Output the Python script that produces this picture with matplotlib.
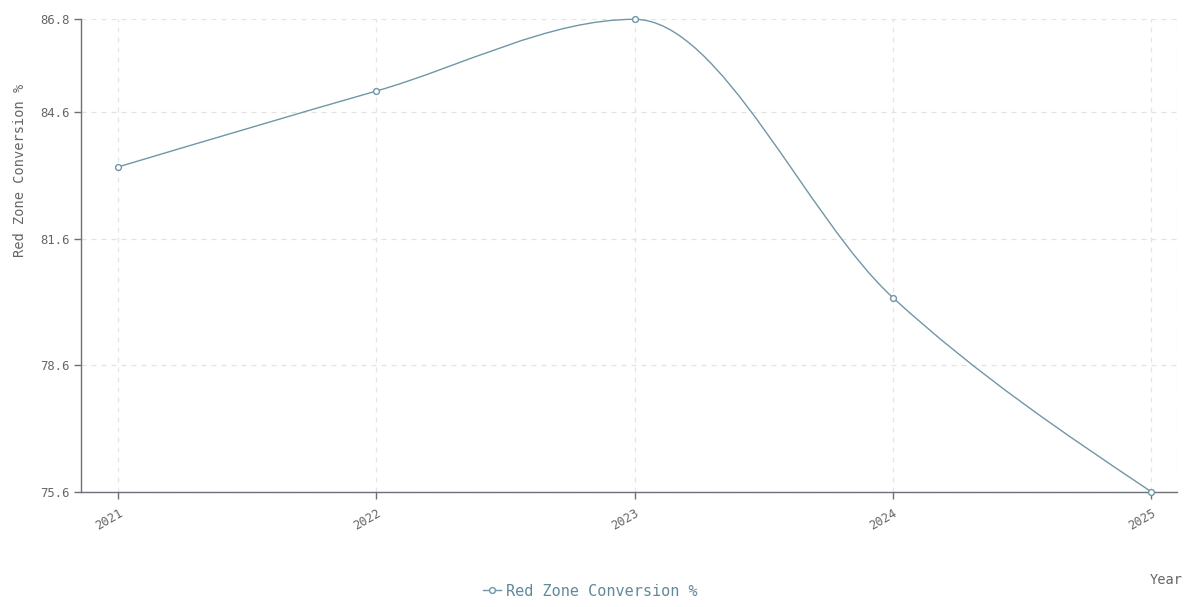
import matplotlib
matplotlib.use("Agg")
import matplotlib.pyplot as plt
from matplotlib.path import Path
from matplotlib.patches import PathPatch
from matplotlib.lines import Line2D
import numpy as np

years = ["2021", "2022", "2023", "2024", "2025"]
conversion = [83.3, 85.1, 86.8, 80.2, 75.6]
y_ticks = [75.6, 78.6, 81.6, 84.6, 86.8]
series_name = "Red Zone Conversion %"
x_title = "Year"
y_title = "Red Zone Conversion %"

LINE_C = "#6f97a5"
TEXT_C = "#666666"
AXIS_C = "#6e7079"
FONT = "DejaVu Sans Mono"

W, H = 1200, 607
fig = plt.figure(figsize=(W / 100, H / 100), dpi=100)
l, r, t, b = 81, 1177, 19.3, 491.7
ax = fig.add_axes([l / W, 1 - b / H, (r - l) / W, (b - t) / H])

xs = np.arange(len(years), dtype=float)
ys = np.array(conversion, dtype=float)
ax.set_xlim(-0.144, len(years) - 1 + 0.10)
ax.set_ylim(y_ticks[0], y_ticks[-1])

for s in ["top", "right"]:
    ax.spines[s].set_visible(False)
for s in ["left", "bottom"]:
    ax.spines[s].set_color(AXIS_C)
    ax.spines[s].set_linewidth(1.0)

ax.set_yticks(y_ticks)
ax.set_yticklabels([f"{v:.1f}" for v in y_ticks], fontsize=8.8, family=FONT, color=TEXT_C)
ax.set_xticks(xs)
ax.set_xticklabels(years, fontsize=8.8, family=FONT, color=TEXT_C, rotation=30,
                   ha="right", rotation_mode="anchor")
ax.tick_params(axis="both", direction="out", length=5, width=1, color=AXIS_C, pad=3)
ax.tick_params(axis="x", pad=6)

ax.grid(axis="y", color="#e3e3e3", linestyle=(0, (4, 4)), linewidth=0.9)
ax.grid(axis="x", color="#e0e5f0", linestyle=(0, (4, 4)), linewidth=0.9)
ax.axvline(ax.get_xlim()[1], color="#e3e3e3", linestyle=(0, (4, 4)), linewidth=0.9, zorder=0)
ax.set_axisbelow(True)

# Monotone-X cubic curve (d3 curveMonotoneX style) through the data points
n = len(xs)
h = np.diff(xs)
sec = np.diff(ys) / h
tang = np.zeros(n)
for i in range(1, n - 1):
    s0, s1 = sec[i - 1], sec[i]
    p = (s0 * h[i] + s1 * h[i - 1]) / (h[i - 1] + h[i])
    tang[i] = (np.sign(s0) + np.sign(s1)) * min(abs(s0), abs(s1), 0.5 * abs(p))
tang[0] = (3 * sec[0] - tang[1]) / 2
tang[-1] = (3 * sec[-1] - tang[-2]) / 2

verts = [(xs[0], ys[0])]
codes = [Path.MOVETO]
for i in range(n - 1):
    dx = h[i] / 3
    verts += [(xs[i] + dx, ys[i] + dx * tang[i]),
              (xs[i + 1] - dx, ys[i + 1] - dx * tang[i + 1]),
              (xs[i + 1], ys[i + 1])]
    codes += [Path.CURVE4] * 3

patch = PathPatch(Path(verts, codes), facecolor="none", edgecolor=LINE_C,
                  linewidth=1.0, zorder=3, clip_on=False)
ax.add_patch(patch)
ax.plot(xs, ys, linestyle="none", marker="o", markersize=4.2,
        markerfacecolor="white", markeredgecolor=LINE_C, markeredgewidth=1.0,
        zorder=4, clip_on=False)

fig.text(20 / W, 1 - 170 / H, y_title, rotation=90, ha="center", va="center",
         fontsize=9.8, family=FONT, color=TEXT_C)
fig.text(1166 / W, 1 - 580 / H, x_title, ha="center", va="center",
         fontsize=9.8, family=FONT, color=TEXT_C)

handle = Line2D([0], [0], color=LINE_C, linewidth=1.0, marker="o", markersize=4.2,
                markerfacecolor="white", markeredgecolor=LINE_C)
leg = fig.legend([handle], [series_name], loc="center", bbox_to_anchor=(590 / W, 1 - 591 / H),
                 frameon=False, handlelength=1.2, handletextpad=0.3,
                 prop={"family": FONT, "size": 11})
for txt in leg.get_texts():
    txt.set_color("#5f8b99")

fig.savefig("out.png", dpi=100)
